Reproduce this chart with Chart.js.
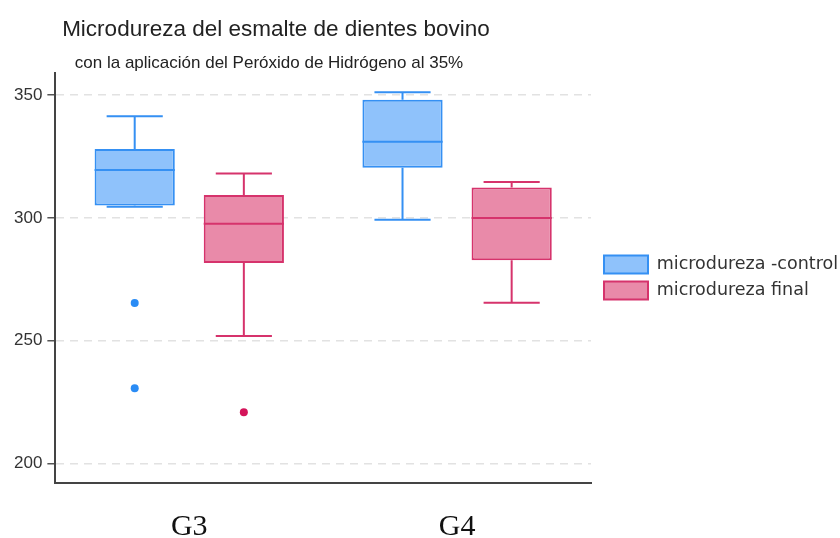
<!DOCTYPE html>
<html>
<head>
<meta charset="utf-8">
<script src="https://cdn.jsdelivr.net/npm/chart.js@4.4.1/dist/chart.umd.min.js"></script>
<style>
  html, body { margin: 0; padding: 0; background: #fff; }
  #wrap { width: 840px; height: 538px; }
</style>
</head>
<body>
<div id="wrap"><canvas id="chart-1"></canvas></div>
<script>
// Values
const categories = ["G3", "G4"];
const seriesNames = ["microdureza -control", "microdureza final"];

const controlMin = [304.5, 299.2];
const controlQ1 = [305.0, 320.4];
const controlMedian = [319.5, 331.0];
const controlQ3 = [328.0, 348.1];
const controlMax = [341.4, 351.2];
const controlOutliers = [[265.3, 230.6], []];

const finalMin = [251.9, 265.4];
const finalQ1 = [281.6, 282.7];
const finalMedian = [297.6, 299.9];
const finalQ3 = [309.3, 312.4];
const finalMax = [318.1, 314.6];
const finalOutliers = [[220.8], []];

const yTicks = [200, 250, 300, 350];

const stats = [
    { min: controlMin, q1: controlQ1, med: controlMedian, q3: controlQ3, max: controlMax, out: controlOutliers, line: "#3590f3", dot: "#2a8cf5" },
    { min: finalMin, q1: finalQ1, med: finalMedian, q3: finalQ3, max: finalMax, out: finalOutliers, line: "#d6336c", dot: "#d4145a" },
];

// whiskers, medians and outliers drawn on top of the floating bars
const boxPlotExtras = {
    id: "boxPlotExtras",
    afterDatasetsDraw(chart) {
        const ctx = chart.ctx;
        const y = chart.scales.y;
        stats.forEach((s, d) => {
            const meta = chart.getDatasetMeta(d);
            meta.data.forEach((bar, i) => {
                const x = bar.x;
                const w = bar.width;
                const cap = w * 0.35;
                ctx.save();
                ctx.strokeStyle = s.line;
                ctx.lineWidth = 2;
                ctx.beginPath();
                // upper whisker
                ctx.moveTo(x, y.getPixelForValue(s.q3[i]));
                ctx.lineTo(x, y.getPixelForValue(s.max[i]));
                ctx.moveTo(x - cap, y.getPixelForValue(s.max[i]));
                ctx.lineTo(x + cap, y.getPixelForValue(s.max[i]));
                // lower whisker
                ctx.moveTo(x, y.getPixelForValue(s.q1[i]));
                ctx.lineTo(x, y.getPixelForValue(s.min[i]));
                ctx.moveTo(x - cap, y.getPixelForValue(s.min[i]));
                ctx.lineTo(x + cap, y.getPixelForValue(s.min[i]));
                // median
                ctx.moveTo(x - w / 2, y.getPixelForValue(s.med[i]));
                ctx.lineTo(x + w / 2, y.getPixelForValue(s.med[i]));
                ctx.stroke();
                // outliers
                ctx.fillStyle = s.dot;
                s.out[i].forEach(v => {
                    ctx.beginPath();
                    ctx.arc(x, y.getPixelForValue(v), 4, 0, Math.PI * 2);
                    ctx.fill();
                });
                ctx.restore();
            });
        });
    }
};

// titles placed like the original (not centred on the canvas)
const titles = {
    id: "titles",
    afterDraw(chart) {
        const ctx = chart.ctx;
        ctx.save();
        ctx.fillStyle = "#222";
        ctx.textAlign = "center";
        ctx.textBaseline = "alphabetic";
        ctx.font = "22.5px 'Liberation Sans'";
        ctx.fillText("Microdureza del esmalte de dientes bovino", 276, 36);
        ctx.font = "17px 'Liberation Sans'";
        ctx.fillText("con la aplicación del Peróxido de Hidrógeno al 35%", 269, 68);
        ctx.restore();
    }
};

// the legend box is capped in width, so widen it and nudge it to where the original has it
const legendShift = {
    id: "legendShift",
    afterLayout(chart) {
        const lg = chart.legend;
        lg.left += 5;
        lg.right = chart.width;
        lg.width = lg.right - lg.left;
        lg.top -= 89;
    }
};

const ctx1 = document.getElementById("chart-1").getContext("2d");
const boxChart = new Chart(ctx1, {
    type: "bar",
    data: {
        labels: categories,
        datasets: [{
            label: seriesNames[0],
            data: categories.map((c, i) => [controlQ1[i], controlQ3[i]]),
            backgroundColor: "#8fc2fb",
            borderColor: "#3590f3",
            borderWidth: 2,
            borderSkipped: false,
        }, {
            label: seriesNames[1],
            data: categories.map((c, i) => [finalQ1[i], finalQ3[i]]),
            backgroundColor: "#e98aa9",
            borderColor: "#d6336c",
            borderWidth: 2,
            borderSkipped: false,
        }],
    },
    options: {
        responsive: true,
        maintainAspectRatio: false,
        animation: false,
        categoryPercentage: 0.815,
        barPercentage: 0.735,
        layout: { padding: { top: 73, left: 9, right: 55, bottom: -33 } },
        plugins: {
            tooltip: { enabled: false },
            title: { display: false },
            legend: {
                position: "right",
                align: "center",
                labels: {
                    boxWidth: 44,
                    boxHeight: 18,
                    padding: 8,
                    color: "#333",
                    font: { family: "'DejaVu Sans'", size: 17.5, lineHeight: 1 },
                },
            },
        },
        scales: {
            x: {
                grid: { display: false, drawTicks: false },
                border: { display: true, color: "#444", width: 2 },
                ticks: {
                    color: "#111",
                    padding: 26,
                    font: { family: "'Liberation Serif'", size: 30 },
                },
            },
            y: {
                min: 192,
                max: 359,
                afterBuildTicks: scale => {
                    scale.ticks = yTicks.map(v => ({ value: v }));
                },
                grid: {
                    color: "#e2e2e2",
                    lineWidth: 1.5,
                    tickLength: 8,
                    tickColor: "#555",
                    tickWidth: 1.5,
                    tickBorderDash: [],
                },
                border: { display: true, color: "#444", width: 2, dash: [8, 6] },
                ticks: {
                    color: "#333",
                    padding: 5,
                    font: { family: "'Liberation Sans'", size: 17 },
                },
            },
        },
    },
    plugins: [boxPlotExtras, titles, legendShift],
});
</script>
</body>
</html>
